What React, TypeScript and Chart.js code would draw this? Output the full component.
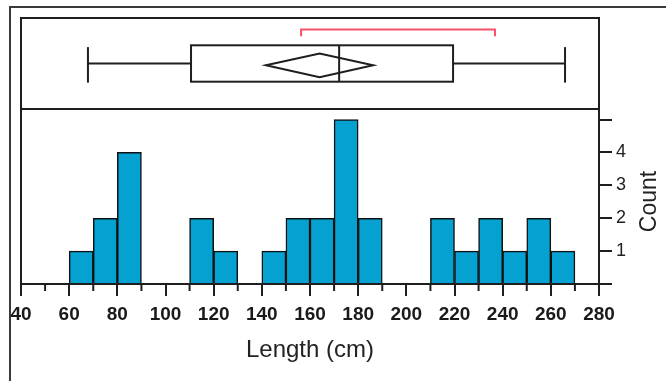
import React, { useEffect, useRef } from 'react';
import { Chart, registerables } from 'chart.js';

Chart.register(...registerables);

// ---- data ----
const binStarts = [60, 70, 80, 90, 100, 110, 120, 130, 140, 150, 160, 170, 180, 190, 200, 210, 220, 230, 240, 250, 260];
const binCounts = [1, 2, 4, 0, 0, 2, 1, 0, 1, 2, 2, 5, 2, 0, 0, 2, 1, 2, 1, 2, 1];
const binWidth = 10;
const xRange = [40, 280];
const xMinorTicks = [50, 70, 90, 110, 130, 150, 170, 190, 210, 230, 250, 270];
const yTickLabels = ['1', '2', '3', '4'];
const whiskers = [67.8, 265.9];
const quartiles = [110.6, 172.1, 219.4]; // Q1, median, Q3
const meanValue = [164.0];
const meanCI = [141.7, 186.2];
const shortestHalf = [156.3, 236.8];
const xTitle = 'Length (cm)';
const yTitle = 'Count';

const LINE = '#1e1e1e';

const panelPlugin = {
  id: 'panelPlugin',
  afterDatasetsDraw(chart: any) {
    const { ctx } = chart;
    const x = chart.scales.x;
    const y = chart.scales.y;
    const yb = chart.scales.yBox;
    const left = x.getPixelForValue(xRange[0]);
    const right = x.getPixelForValue(xRange[1]);
    const top = yb.top;
    const mid = y.top;
    const bottom = y.getPixelForValue(0);
    const seg = (x1: number, y1: number, x2: number, y2: number) => {
      ctx.beginPath();
      ctx.moveTo(x1, y1);
      ctx.lineTo(x2, y2);
      ctx.stroke();
    };
    ctx.save();
    ctx.strokeStyle = LINE;
    ctx.lineWidth = 2;
    ctx.strokeRect(left, top, right - left, bottom - top);
    seg(left, mid, right, mid);
    // minor x ticks
    for (const v of xMinorTicks) {
      const px = x.getPixelForValue(v);
      seg(px, bottom, px, bottom + 7);
    }
    // box plot
    const cy = yb.getPixelForValue(0.5);
    const bTop = yb.getPixelForValue(0.7);
    const bBot = yb.getPixelForValue(0.3);
    const cTop = yb.getPixelForValue(0.68);
    const cBot = yb.getPixelForValue(0.29);
    const xw0 = x.getPixelForValue(whiskers[0]);
    const xw1 = x.getPixelForValue(whiskers[1]);
    const xq1 = x.getPixelForValue(quartiles[0]);
    const xmed = x.getPixelForValue(quartiles[1]);
    const xq3 = x.getPixelForValue(quartiles[2]);
    seg(xw0, cy, xq1, cy);
    seg(xq3, cy, xw1, cy);
    seg(xw0, cTop, xw0, cBot);
    seg(xw1, cTop, xw1, cBot);
    ctx.strokeRect(xq1, bTop, xq3 - xq1, bBot - bTop);
    seg(xmed, bTop, xmed, bBot);
    // mean diamond
    const dc = yb.getPixelForValue(0.48);
    const dTop = yb.getPixelForValue(0.61);
    const dBot = yb.getPixelForValue(0.35);
    const xm = x.getPixelForValue(meanValue[0]);
    ctx.beginPath();
    ctx.moveTo(x.getPixelForValue(meanCI[0]), dc);
    ctx.lineTo(xm, dTop);
    ctx.lineTo(x.getPixelForValue(meanCI[1]), dc);
    ctx.lineTo(xm, dBot);
    ctx.closePath();
    ctx.stroke();
    // shortest half bracket
    const rY = yb.getPixelForValue(0.874);
    const rLeg = yb.getPixelForValue(0.8);
    const xs0 = x.getPixelForValue(shortestHalf[0]);
    const xs1 = x.getPixelForValue(shortestHalf[1]);
    ctx.strokeStyle = '#f7506a';
    ctx.lineWidth = 2;
    ctx.beginPath();
    ctx.moveTo(xs0, rLeg);
    ctx.lineTo(xs0, rY);
    ctx.lineTo(xs1, rY);
    ctx.lineTo(xs1, rLeg);
    ctx.stroke();
    ctx.restore();
  },
  afterDraw(chart: any) {
    const { ctx } = chart;
    const y = chart.scales.y;
    ctx.save();
    // outer frame
    ctx.strokeStyle = '#3a3a3a';
    ctx.lineWidth = 2;
    ctx.beginPath();
    ctx.moveTo(10, chart.height);
    ctx.lineTo(10, 7);
    ctx.lineTo(chart.width, 7);
    ctx.stroke();
    // y title, reading bottom-to-top
    ctx.fillStyle = '#222';
    ctx.font = '23px "Liberation Sans", Arial, sans-serif';
    ctx.textAlign = 'center';
    ctx.textBaseline = 'middle';
    ctx.translate(650, (y.top + y.bottom) / 2 + 5);
    ctx.rotate(-Math.PI / 2);
    ctx.fillText(yTitle, 0, 0);
    ctx.restore();
  },
};

export default function App() {
  const ref = useRef<HTMLCanvasElement>(null);
  useEffect(() => {
    const data = binStarts
      .map((s, i) => ({ x: s + binWidth / 2, y: binCounts[i] }))
      .filter((d) => d.y > 0);
    const chart = new Chart(ref.current as HTMLCanvasElement, {
      type: 'bar',
      data: {
        datasets: [
          {
            data,
            xAxisID: 'x',
            yAxisID: 'y',
            backgroundColor: '#05a1d1',
            borderColor: '#111',
            borderWidth: 1.5,
            barPercentage: 1,
            categoryPercentage: 1,
          } as any,
        ],
      },
      options: {
        animation: false,
        responsive: false,
        devicePixelRatio: 1,
        layout: { padding: { top: 18, left: 21, right: 0, bottom: 0 } },
        plugins: { legend: { display: false }, tooltip: { enabled: false } },
        scales: {
          x: {
            type: 'linear',
            min: xRange[0],
            max: xRange[1],
            offset: false,
            afterFit: (s: any) => {
              s.height = 97;
            },
            grid: { drawOnChartArea: false, drawTicks: true, tickLength: 12, color: LINE, lineWidth: 2, offset: false },
            border: { display: false },
            ticks: {
              stepSize: 20,
              autoSkip: false,
              maxRotation: 0,
              includeBounds: false,
              padding: 7,
              color: '#1a1a1a',
              font: { family: '"Liberation Sans", Arial, sans-serif', size: 19, weight: 'bold' },
            },
            title: {
              display: true,
              text: xTitle,
              color: '#222',
              font: { family: '"Liberation Sans", Arial, sans-serif', size: 24 },
              padding: { top: 0, bottom: 16 },
            },
          },
          yBox: {
            type: 'linear',
            position: 'right',
            stack: 'right',
            stackWeight: 91,
            min: 0,
            max: 1,
            display: false,
          },
          y: {
            type: 'linear',
            position: 'right',
            stack: 'right',
            stackWeight: 175,
            min: 0,
            max: 5.32,
            afterFit: (s: any) => {
              s.width = 67;
            },
            grid: { drawOnChartArea: false, drawTicks: true, tickLength: 13, color: LINE, lineWidth: 2 },
            border: { display: false },
            ticks: {
              stepSize: 1,
              autoSkip: false,
              includeBounds: false,
              padding: 4,
              color: '#222',
              font: { family: '"Liberation Sans", Arial, sans-serif', size: 18 },
              callback: (v: any) => (yTickLabels.includes(String(v)) ? String(v) : ''),
            },
          },
        },
      } as any,
      plugins: [panelPlugin],
    });
    return () => chart.destroy();
  }, []);
  return (
    <div style={{ position: 'fixed', left: 0, top: 0, width: 666, height: 381, background: '#fff' }}>
      <canvas ref={ref} width={666} height={381} style={{ display: 'block' }} />
    </div>
  );
}
